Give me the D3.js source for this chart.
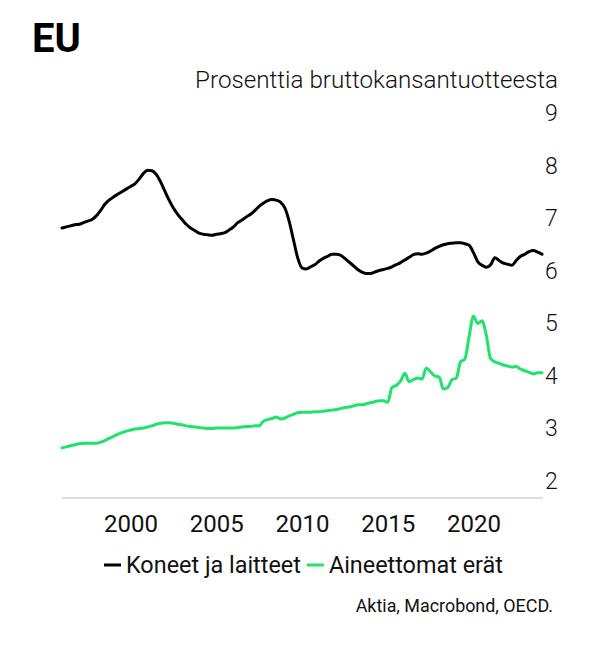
<!DOCTYPE html>
<html>
<head>
<meta charset="utf-8">
<script src="https://cdn.jsdelivr.net/npm/d3@7"></script>
<style>
  html, body { margin: 0; padding: 0; background: #fff; }
  svg { display: block; font-family: Roboto, "Noto Sans", sans-serif; }
</style>
</head>
<body>
<svg id="chart" width="600" height="650"></svg>
<script>
// ---- Data (quarterly, 1996Q1 .. 2024Q1) ----
const startYear = 1996;
const seriesNames = ["Koneet ja laitteet", "Aineettomat erät"];
const seriesColors = ["#000000", "#1fe36b"];

const koneetValues = [
  6.82, 6.84, 6.86, 6.88,  6.89, 6.92, 6.95, 6.98,  7.05, 7.15, 7.27, 7.35,
  7.41, 7.46, 7.51, 7.56,  7.61, 7.66, 7.75, 7.86,  7.92, 7.91, 7.84, 7.70,
  7.52, 7.35, 7.20, 7.08,  6.98, 6.89, 6.82, 6.77,  6.72, 6.70, 6.69, 6.68,
  6.70, 6.71, 6.73, 6.78,  6.84, 6.92, 6.97, 7.03,  7.08, 7.15, 7.23, 7.29,
  7.34, 7.36, 7.35, 7.31,  7.20, 6.95, 6.60, 6.25,  6.06, 6.04, 6.08, 6.12,
  6.19, 6.24, 6.28, 6.32,  6.32, 6.30, 6.24, 6.17,  6.10, 6.03, 5.98, 5.95,
  5.95, 5.98, 6.01, 6.03,  6.05, 6.08, 6.12, 6.16,  6.21, 6.26, 6.31, 6.33,
  6.32, 6.34, 6.38, 6.43,  6.47, 6.50, 6.52, 6.53,  6.54, 6.54, 6.52, 6.49,
  6.35, 6.18, 6.11, 6.07,  6.12, 6.25, 6.20, 6.15,  6.13, 6.11, 6.20, 6.28,
  6.32, 6.37, 6.39, 6.36,  6.32
];

const aineettomatValues = [
  2.63, 2.65, 2.67, 2.69,  2.71, 2.72, 2.72, 2.72,  2.72, 2.74, 2.77, 2.81,
  2.85, 2.89, 2.92, 2.95,  2.97, 2.99, 3.00, 3.01,  3.03, 3.05, 3.08, 3.10,
  3.11, 3.11, 3.10, 3.08,  3.07, 3.05, 3.04, 3.03,  3.02, 3.01, 3.00, 3.00,
  3.01, 3.01, 3.01, 3.01,  3.01, 3.02, 3.03, 3.04,  3.04, 3.05, 3.05, 3.14,
  3.17, 3.19, 3.22, 3.18,  3.20, 3.24, 3.27, 3.30,  3.31, 3.31, 3.31, 3.32,
  3.32, 3.33, 3.34, 3.35,  3.36, 3.38, 3.40, 3.41,  3.43, 3.45, 3.45, 3.47,
  3.49, 3.51, 3.53, 3.53,  3.50, 3.78, 3.82, 3.90,  4.05, 3.89, 3.93, 3.96,
  3.94, 4.15, 4.08, 4.00,  3.98, 3.75, 3.78, 3.93,  3.96, 4.27, 4.32, 4.75,
  5.14, 5.00, 5.05, 4.78,  4.33, 4.27, 4.24, 4.21,  4.19, 4.17, 4.18, 4.13,
  4.10, 4.07, 4.04, 4.06,  4.06
];

const yTicks = [2, 3, 4, 5, 6, 7, 8, 9];
const xTickYears = [2000, 2005, 2010, 2015, 2020];

const titleText = "EU";
const subtitleText = "Prosenttia bruttokansantuotteesta";
const sourceText = "Aktia, Macrobond, OECD.";

// ---- Build ----
const quarterDate = i => new Date(startYear + Math.floor(i / 4), (i % 4) * 3, 1);
const allSeries = [koneetValues, aineettomatValues].map((vals, k) => ({
  name: seriesNames[k],
  color: seriesColors[k],
  points: vals.map((v, i) => ({ date: quarterDate(i), value: v }))
}));

const svg = d3.select("#chart");

const x = d3.scaleTime()
  .domain([new Date(1996, 0, 1), new Date(2024, 0, 1)])
  .range([62, 542]);

const y = d3.scaleLinear()
  .domain([1.676, 9])
  .range([498, 113.5]);

// Title & subtitle
svg.append("text")
  .attr("x", 32).attr("y", 52)
  .attr("font-size", 40).attr("font-weight", 700)
  .attr("fill", "#000")
  .text(titleText);

svg.append("text")
  .attr("x", 558).attr("y", 88)
  .attr("text-anchor", "end")
  .attr("font-size", 24.2).attr("font-weight", 300)
  .attr("fill", "#111")
  .text(subtitleText);

// Baseline
svg.append("line")
  .attr("x1", x.range()[0]).attr("x2", x.range()[1] + 1)
  .attr("y1", y(1.676)).attr("y2", y(1.676))
  .attr("stroke", "#bdbdbd").attr("stroke-width", 1);

// Y axis (right)
const yAxis = d3.axisRight(y).tickValues(yTicks).tickSize(0).tickPadding(0)
  .tickFormat(d3.format("d"));
const yG = svg.append("g").attr("transform", "translate(545,0)").call(yAxis);
yG.select(".domain").remove();
yG.selectAll("text")
  .attr("font-size", 23).attr("font-weight", 300)
  .attr("font-family", "Roboto, sans-serif")
  .attr("fill", "#111");

// X axis
const xAxis = d3.axisBottom(x)
  .tickValues(xTickYears.map(yr => new Date(yr, 0, 1)))
  .tickSize(0).tickPadding(0)
  .tickFormat(d3.timeFormat("%Y"));
const xG = svg.append("g").attr("transform", "translate(0,515)").call(xAxis);
xG.select(".domain").remove();
xG.selectAll("text")
  .attr("font-size", 24)
  .attr("font-family", "Roboto, sans-serif")
  .attr("fill", "#111");

// Lines
const line = d3.line()
  .x(d => x(d.date))
  .y(d => y(d.value))
  .curve(d3.curveMonotoneX);

svg.append("g").selectAll("path")
  .data(allSeries)
  .join("path")
  .attr("d", d => line(d.points))
  .attr("fill", "none")
  .attr("stroke", d => d.color)
  .attr("stroke-width", 3)
  .attr("stroke-linejoin", "round")
  .attr("stroke-linecap", "round");

// Legend
const legendY = 565;
const legend = svg.append("g");
let lx = 104;
allSeries.forEach(s => {
  legend.append("line")
    .attr("x1", lx).attr("x2", lx + 17)
    .attr("y1", legendY).attr("y2", legendY)
    .attr("stroke", s.color).attr("stroke-width", 3);
  const t = legend.append("text")
    .attr("x", lx + 22).attr("y", legendY + 8)
    .attr("font-size", 23.4)
    .attr("fill", "#111")
    .text(s.name);
  lx = lx + 22 + t.node().getComputedTextLength() + 6;
});

// Source
svg.append("text")
  .attr("x", 553).attr("y", 612)
  .attr("text-anchor", "end")
  .attr("font-size", 17.9)
  .attr("fill", "#111")
  .text(sourceText);
</script>
</body>
</html>
